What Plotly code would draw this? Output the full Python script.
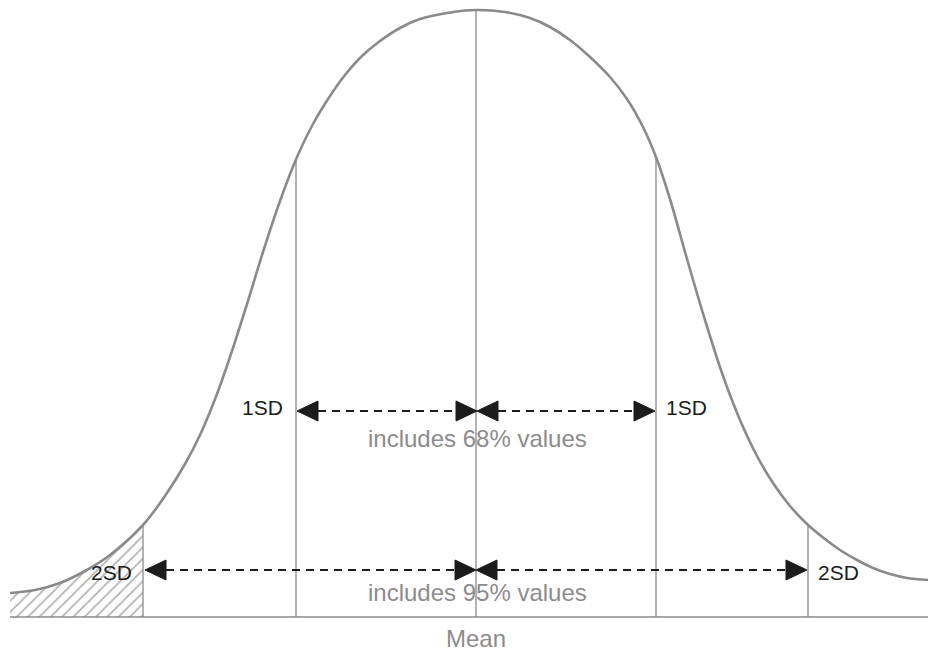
import plotly.graph_objects as go

# ---- data (x position, height above the baseline) ----
curve_x = [10, 35, 60, 85, 110, 143, 165, 185, 200, 217, 232, 247, 263, 280, 297, 313, 330, 345, 362,
           380, 400, 420, 447, 476,
           505, 530, 550, 570, 590, 610, 627, 643, 656, 670, 687, 705, 722, 740, 757, 773, 790, 808,
           825, 840, 857, 873, 890, 907, 928]
curve_h = [24, 27, 34, 46, 62, 92, 121, 153, 182, 223, 266, 313, 365, 416, 460, 493, 521, 542, 561,
           576, 589, 598, 604, 607,
           605, 599, 590, 577, 560, 540, 518, 490, 460, 418, 358, 297, 244, 197, 161, 134, 111, 92,
           78, 67, 57, 49, 43, 39, 37]

mean_x = 476
mean_top = 607
sd1_x = [296, 656]
sd1_top = [459, 460]
sd2_x = [143, 808]
sd2_top = [92, 92]
baseline_x = [10, 928]

arrow68_h = 206
arrow95_h = 47

sd1_label = "1SD"
sd2_label = "2SD"
range68_label = "includes 68% values"
range95_label = "includes 95% values"
mean_label = "Mean"

# ---- styles ----
GRAY = "#8a8a8a"
DARK = "#1c1c1c"
FONT = "Liberation Sans, Arial, Helvetica, sans-serif"
HEAD_L = 21
HEAD_W = 10

fig = go.Figure()

# hatched left tail (beyond -2SD)
tail_x = [x for x in curve_x if x <= sd2_x[0]]
tail_h = [h for x, h in zip(curve_x, curve_h) if x <= sd2_x[0]]
fig.add_trace(go.Scatter(
    x=tail_x, y=tail_h, mode="lines", line=dict(width=0, shape="spline", smoothing=0.9),
    fill="tozeroy", fillcolor="rgba(0,0,0,0)",
    fillpattern=dict(shape="/", fgcolor="#5e5e5e", bgcolor="white", size=8, solidity=0.2),
    hoverinfo="skip"))

# bell curve
fig.add_trace(go.Scatter(
    x=curve_x, y=curve_h, mode="lines",
    line=dict(color=GRAY, width=2.6, shape="spline", smoothing=0.9),
    hoverinfo="skip"))

# baseline
fig.add_trace(go.Scatter(x=baseline_x, y=[0, 0], mode="lines",
                         line=dict(color=GRAY, width=1.6), hoverinfo="skip"))

# vertical guide lines
guides = [(mean_x, mean_top)] + list(zip(sd1_x, sd1_top)) + list(zip(sd2_x, sd2_top))
for gx, gt in guides:
    fig.add_trace(go.Scatter(x=[gx, gx], y=[0, gt], mode="lines",
                             line=dict(color=GRAY, width=1.3), hoverinfo="skip"))


def double_arrow(x0, x1, h):
    fig.add_trace(go.Scatter(x=[x0 + HEAD_L, x1 - HEAD_L], y=[h, h], mode="lines",
                             line=dict(color=DARK, width=2, dash="8px,6px"), hoverinfo="skip"))
    fig.add_trace(go.Scatter(x=[x0, x0 + HEAD_L, x0 + HEAD_L, x0],
                             y=[h, h + HEAD_W, h - HEAD_W, h], mode="lines",
                             fill="toself", fillcolor=DARK, line=dict(color=DARK, width=1),
                             hoverinfo="skip"))
    fig.add_trace(go.Scatter(x=[x1, x1 - HEAD_L, x1 - HEAD_L, x1],
                             y=[h, h + HEAD_W, h - HEAD_W, h], mode="lines",
                             fill="toself", fillcolor=DARK, line=dict(color=DARK, width=1),
                             hoverinfo="skip"))


double_arrow(sd1_x[0] + 1, mean_x + 1, arrow68_h)
double_arrow(mean_x + 1, sd1_x[1] - 1, arrow68_h)
double_arrow(sd2_x[0] + 2, mean_x, arrow95_h)
double_arrow(mean_x, sd2_x[1] - 1, arrow95_h)

ann = []
dark_font = dict(family=FONT, size=21, color=DARK)
gray_font = dict(family=FONT, size=24, color="#8c8c8c")
ann.append(dict(x=sd1_x[0] - 11, y=arrow68_h + 4, text=sd1_label, xanchor="right", font=dark_font))
ann.append(dict(x=sd1_x[1] + 8, y=arrow68_h + 4, text=sd1_label, xanchor="left", font=dark_font))
ann.append(dict(x=sd2_x[0] - 9, y=arrow95_h - 2, text=sd2_label, xanchor="right", font=dark_font))
ann.append(dict(x=sd2_x[1] + 8, y=arrow95_h - 2, text=sd2_label, xanchor="left", font=dark_font))
ann.append(dict(x=mean_x + 1, y=arrow68_h - 27, text=range68_label, xanchor="center", font=gray_font))
ann.append(dict(x=mean_x + 1, y=arrow95_h - 22, text=range95_label, xanchor="center", font=gray_font))
ann.append(dict(x=mean_x, y=-21, text=mean_label, xanchor="center", font=gray_font))
for a in ann:
    a.update(xref="x", yref="y", showarrow=False, yanchor="middle")

fig.update_layout(
    width=928, height=654,
    margin=dict(l=0, r=0, t=0, b=0),
    paper_bgcolor="white", plot_bgcolor="white",
    showlegend=False,
    xaxis=dict(visible=False, range=[0, 928], fixedrange=True),
    yaxis=dict(visible=False, range=[-37, 617], fixedrange=True),
    annotations=ann,
)

fig.write_html("out.html", config={"displayModeBar": False},
               post_script="document.body.style.margin='0';document.body.style.overflow='hidden';")
